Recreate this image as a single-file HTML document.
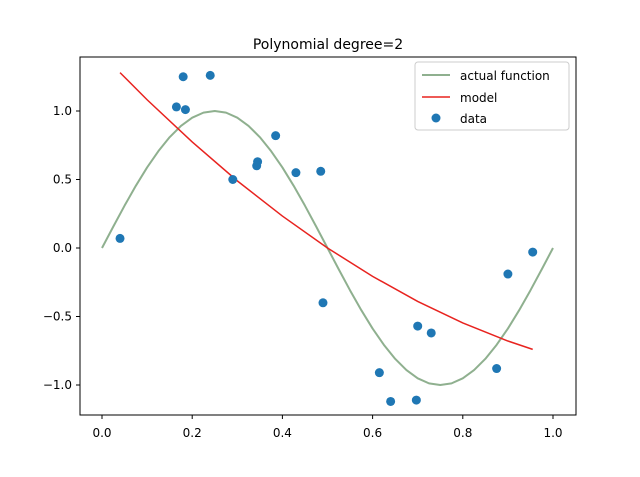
<!DOCTYPE html>
<html><head><meta charset="utf-8"><style>
html,body{margin:0;padding:0;background:#fff;}
svg text{font-family:"DejaVu Sans","Liberation Sans",sans-serif;}
</style></head><body>
<svg id="chart" width="640" height="472" xmlns="http://www.w3.org/2000/svg">
<rect width="640" height="472" fill="#fff"/>
<text x="328" y="49" font-size="14" text-anchor="middle">Polynomial degree=2</text>
<g id="plot"></g>
<rect x="80" y="57" width="496" height="358" fill="none" stroke="#000" stroke-width="1"/>
<g id="ticks"></g>
<g>
<rect x="415" y="62" width="154" height="68" rx="3" fill="#fff" fill-opacity="0.8" stroke="#ccc"/>
<line x1="422" y1="75" x2="450" y2="75" stroke="#8fb08f" stroke-width="2"/>
<text x="460" y="80" font-size="12">actual function</text>
<line x1="422" y1="97" x2="450" y2="97" stroke="#e8231f" stroke-width="1.5"/>
<text x="460" y="102" font-size="12">model</text>
<circle cx="436" cy="118" r="4.5" fill="#1f77b4"/>
<text x="460" y="123" font-size="12">data</text>
</g>
</svg>
<script>
const actualX=[0,0.025,0.05,0.075,0.1,0.125,0.15,0.175,0.2,0.225,0.25,0.275,0.3,0.325,0.35,0.375,0.4,0.425,0.45,0.475,0.5,0.525,0.55,0.575,0.6,0.625,0.65,0.675,0.7,0.725,0.75,0.775,0.8,0.825,0.85,0.875,0.9,0.925,0.95,0.975,1.0];
const actualY=[0,0.156,0.309,0.454,0.588,0.707,0.809,0.891,0.951,0.988,1,0.988,0.951,0.891,0.809,0.707,0.588,0.454,0.309,0.156,0,-0.156,-0.309,-0.454,-0.588,-0.707,-0.809,-0.891,-0.951,-0.988,-1,-0.988,-0.951,-0.891,-0.809,-0.707,-0.588,-0.454,-0.309,-0.156,0];
const modelX=[0.04,0.1,0.2,0.3,0.4,0.5,0.6,0.7,0.8,0.9,0.955];
const modelY=[1.28,1.082,0.774,0.49,0.233,0.0,-0.207,-0.39,-0.547,-0.679,-0.74];
const dataX=[0.04,0.165,0.18,0.185,0.24,0.29,0.343,0.345,0.385,0.43,0.485,0.49,0.615,0.64,0.70,0.697,0.73,0.875,0.90,0.955];
const dataY=[0.07,1.03,1.25,1.01,1.26,0.50,0.60,0.63,0.82,0.55,0.56,-0.40,-0.91,-1.12,-0.57,-1.11,-0.62,-0.88,-0.19,-0.03];
const xTicks=[0,0.2,0.4,0.6,0.8,1.0];
const xTickLabels=["0.0","0.2","0.4","0.6","0.8","1.0"];
const yTicks=[-1,-0.5,0,0.5,1];
const yTickLabels=["−1.0","−0.5","0.0","0.5","1.0"];
const sx=v=>102+v*451;
const sy=v=>248-v*137;
const NS="http://www.w3.org/2000/svg";
const plot=document.getElementById('plot'),ticks=document.getElementById('ticks');
function mk(t,a,p){const e=document.createElementNS(NS,t);for(const k in a)e.setAttribute(k,a[k]);p.appendChild(e);return e;}
let d=actualX.map((x,i)=>(i?'L':'M')+sx(x)+','+sy(actualY[i])).join('');
const a=mk('path',{d:d,fill:'none',stroke:'#8fb08f','stroke-width':2,'stroke-linejoin':'round'},plot);


d=modelX.map((x,i)=>(i?'L':'M')+sx(x)+','+sy(modelY[i])).join('');
const m=mk('path',{d:d,fill:'none',stroke:'#e8231f','stroke-width':1.5},plot);


dataX.forEach((x,i)=>{const c=mk('circle',{cx:sx(x),cy:sy(dataY[i]),r:4.5,fill:'#1f77b4'},plot);

});
xTicks.forEach((v,i)=>{mk('line',{x1:sx(v),x2:sx(v),y1:415,y2:419,stroke:'#000'},ticks);
const t=mk('text',{x:sx(v),y:437,'font-size':12,'text-anchor':'middle'},ticks);t.textContent=xTickLabels[i];

});
yTicks.forEach((v,i)=>{mk('line',{x1:76,x2:80,y1:sy(v),y2:sy(v),stroke:'#000'},ticks);
const t=mk('text',{x:72,y:sy(v)+4,'font-size':12,'text-anchor':'end'},ticks);t.textContent=yTickLabels[i];

});
</script>
</body></html>
